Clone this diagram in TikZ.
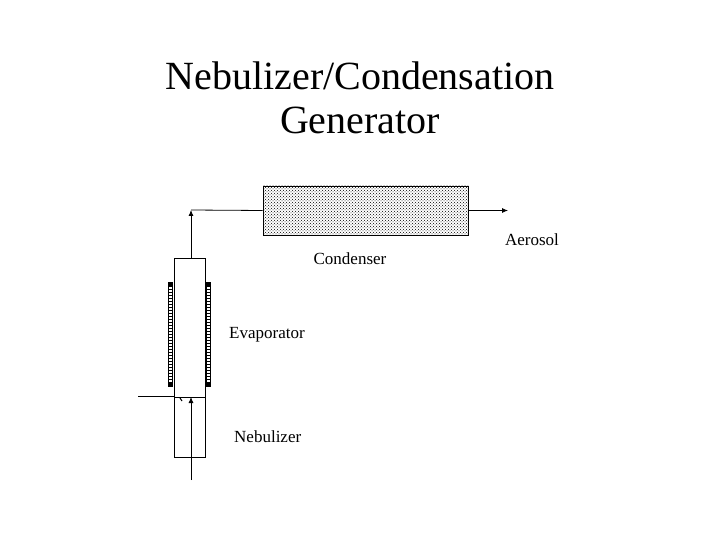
\documentclass[tikz,border=0pt]{standalone}
\usepackage{fontspec}
\setmainfont{Liberation Serif}
\usetikzlibrary{patterns,arrows.meta}
\begin{document}
\begin{tikzpicture}[x=1pt,y=-1pt,
  ln/.style={line width=0.8pt},
  arr/.style={ln,-{Latex[length=6pt,width=5pt]}},
  lbl/.style={font=\fontsize{17}{20}\selectfont,inner sep=0pt}]
\useasboundingbox (0,0) rectangle (720,540);
\node[font=\fontsize{40}{44}\selectfont,align=center] (title) at (360,98) {Nebulizer/Condensation\\Generator};
% condenser
\node[draw,ln,pattern=crosshatch dots,pattern color=black,minimum width=205pt,minimum height=49pt,inner sep=0pt] (cond) at (365.5,210.5) {};
% tubes
\node[draw,ln,minimum width=31pt,minimum height=139pt,inner sep=0pt] (evap) at (189.5,327.5) {};
\node[draw,ln,minimum width=31pt,minimum height=60pt,inner sep=0pt] (neb) at (189.5,427) {};
% heater coils
\foreach \xx in {168,206}{
  \fill (\xx,282) rectangle (\xx+4,287);
  \fill (\xx,382) rectangle (\xx+4,387);
  \foreach \yy in {289,292,...,380} \draw[line width=0.9pt] (\xx,\yy) -- (\xx+4,\yy);
  \draw[line width=0.6pt] (\xx,282) -- (\xx,387) (\xx+4,282) -- (\xx+4,387);
}
\coordinate (bend) at (191,210);
\coordinate (top) at (191,258);
\draw[ln] (cond.west) -- (bend);
\draw[arr] (top) -- (bend);
\coordinate (out) at (508,210.5);
\draw[arr] (cond.east) -- (out);
\coordinate (inl) at (138,396);
\draw[ln] (inl) -- (174,396);
\coordinate (bot) at (191,480);
\draw[arr] (bot) -- (191,397);
\draw[line width=1pt] (180,398) -- (182,401);
\node[lbl] (lc) at (350,259) {Condenser};
\node[lbl] (la) at (532,240) {Aerosol};
\node[lbl,anchor=west] (le) at (229,335) {Evaporator};
\node[lbl,anchor=west] (ln) at (234,437) {Nebulizer};
\end{tikzpicture}
\end{document}
